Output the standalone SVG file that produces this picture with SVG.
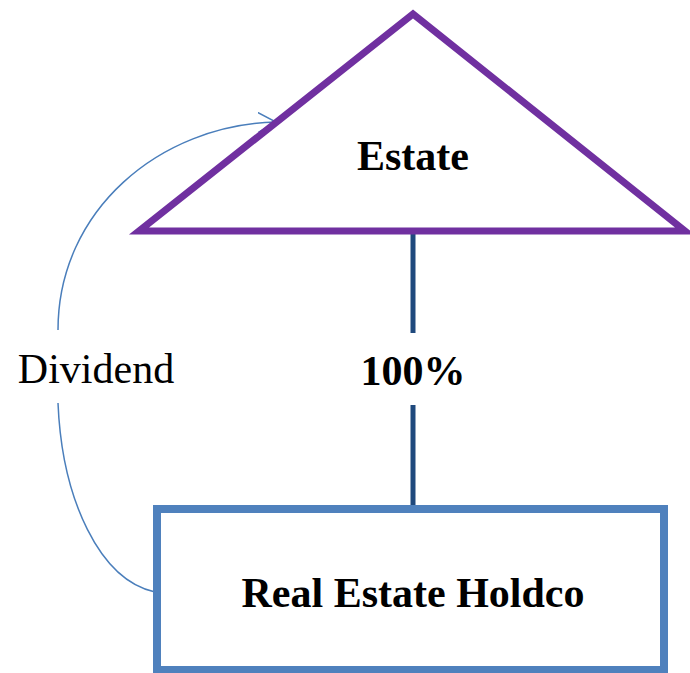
<svg xmlns="http://www.w3.org/2000/svg" width="690" height="673" viewBox="0 0 690 673">
<style>
.t{font-family:"Liberation Serif","Times New Roman",serif;font-size:42px;fill:#000;text-anchor:middle}
.b{font-weight:bold}
.flow{fill:none;stroke:#4A7EBB;stroke-width:1.5}
</style>
<defs>
<marker id="arr" viewBox="0 0 20 20" refX="18" refY="10" markerWidth="20" markerHeight="20" markerUnits="userSpaceOnUse" orient="auto">
<path d="M0,0 L18,10 L0,20" fill="none" stroke="#4A7EBB" stroke-width="1.5"/>
</marker>
</defs>
<rect width="690" height="673" fill="#fff"/>
<g id="connectors">
<line x1="413" y1="231" x2="413" y2="333" stroke="#1F497D" stroke-width="5"/>
<line x1="413" y1="405" x2="413" y2="506" stroke="#1F497D" stroke-width="5"/>
<path class="flow" d="M58,330 C58,210 160,125 276,122" marker-end="url(#arr)"/>
<path class="flow" d="M58,403 C62,500 100,580 155,592"/>
</g>
<g id="estate">
<polygon points="413,14 139,231 685,231" fill="none" stroke="#7030A0" stroke-width="7" stroke-linejoin="miter"/>
<text class="t b" x="413" y="170">Estate</text>
</g>
<g id="pct">
<text class="t b" x="413" y="385">100%</text>
</g>
<g id="dividend">
<text class="t" x="96" y="383">Dividend</text>
</g>
<g id="holdco">
<rect x="157" y="509" width="507" height="161" fill="none" stroke="#4F81BD" stroke-width="8"/>
<text class="t b" x="413" y="607">Real Estate Holdco</text>
</g>
</svg>
